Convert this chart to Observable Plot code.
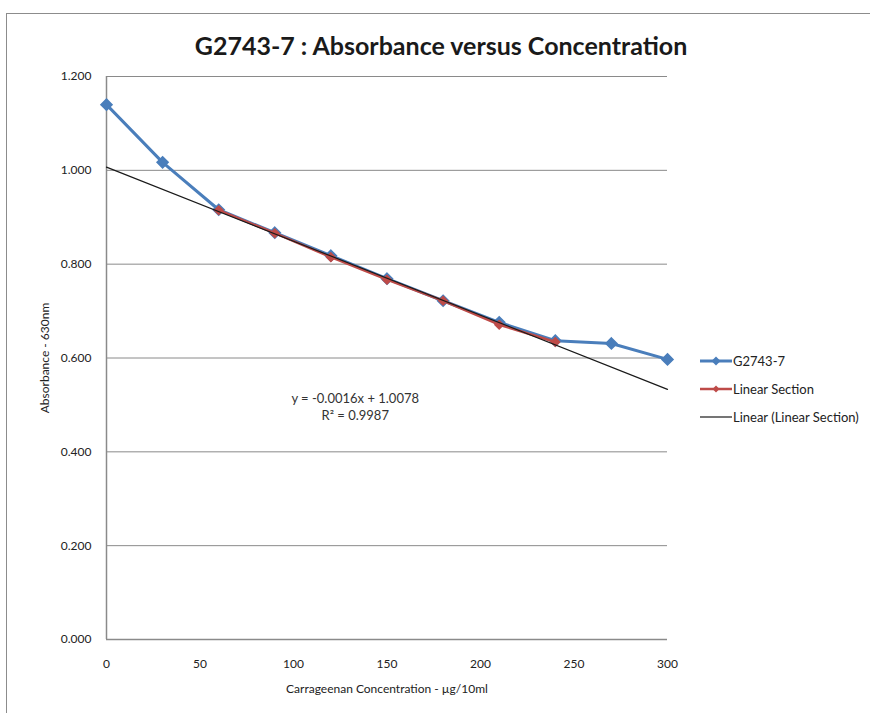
<!DOCTYPE html>
<html>
<head>
<meta charset="utf-8">
<script src="https://cdn.jsdelivr.net/npm/d3@7"></script>
<script src="https://cdn.jsdelivr.net/npm/@observablehq/plot@0.6"></script>
<style>
  html, body { margin: 0; padding: 0; background: #fff; }
  #wrap { position: relative; width: 870px; height: 713px; overflow: hidden; font-family: Lato, "Open Sans", sans-serif; }
  #frame { position: absolute; left: 6px; top: 13px; width: 900px; height: 800px; border: 1px solid #8c8c8c; box-sizing: border-box; }
  #title { position: absolute; left: 0; width: 882px; top: 30px; text-align: center; font-size: 25px; font-weight: bold; color: #1a1a1a; }
  #chart { position: absolute; left: 0; top: 0; }
  #legend { position: absolute; left: 700px; top: 347px; font-size: 13px; color: #222; }
  .item { display: flex; align-items: center; height: 28px; }
  .item svg { margin-right: 1px; }
</style>
</head>
<body>
<div id="wrap">
  <div id="frame"></div>
  <div id="chart"></div>
  <div id="title">G2743-7 : Absorbance versus Concentration</div>
  <div id="legend"></div>
</div>
<script>
// Data
const concentration = [0, 30, 60, 90, 120, 150, 180, 210, 240, 270, 300];
const absorbance = [1.140, 1.017, 0.916, 0.867, 0.818, 0.769, 0.722, 0.676, 0.637, 0.631, 0.597];
const linearConc = [60, 90, 120, 150, 180, 210, 240];
const linearAbs = [0.915, 0.866, 0.815, 0.767, 0.722, 0.671, 0.634];
const yTicks = [0, 0.2, 0.4, 0.6, 0.8, 1.0, 1.2];
const xTicks = [0, 50, 100, 150, 200, 250, 300];
const seriesNames = ["G2743-7", "Linear Section", "Linear (Linear Section)"];
const equationText = ["y = -0.0016x + 1.0078", "R² = 0.9987"];

const blue = "#4A7EBB", red = "#BE4B48", black = "#1a1a1a";

const main = concentration.map((c, i) => ({x: c, y: absorbance[i]}));
const lin = linearConc.map((c, i) => ({x: c, y: linearAbs[i]}));

// least-squares trend line through the linear section (Excel trendline, forecast over full x range)
const mx = d3.mean(linearConc), my = d3.mean(linearAbs);
const slope = d3.sum(linearConc, (c, i) => (c - mx) * (linearAbs[i] - my)) / d3.sum(linearConc, c => (c - mx) ** 2);
const intercept = my - slope * mx;
const trend = d3.extent(concentration).map(c => ({x: c, y: intercept + slope * c}));

const plot = Plot.plot({
  width: 870,
  height: 713,
  marginLeft: 106,
  marginRight: 203,
  marginTop: 76,
  marginBottom: 74,
  style: {fontFamily: "Lato, 'Open Sans', sans-serif", fontSize: "12px", color: "#222", background: "transparent"},
  x: {domain: [0, 300]},
  y: {domain: [0, 1.2]},
  marks: [
    Plot.gridY(yTicks, {stroke: "#8a8a8a", strokeOpacity: 1, strokeWidth: 1}),
    Plot.ruleX([0], {stroke: "#8a8a8a", strokeWidth: 1.5}),
    Plot.ruleY([0], {stroke: "#8a8a8a", strokeWidth: 1.5}),
    Plot.axisY(yTicks, {tickSize: 0, tickPadding: 15, tickFormat: d3.format(".3f"), label: "Absorbance - 630nm", labelAnchor: "center", labelArrow: "none", labelOffset: 66, fontSize: 12}),
    Plot.axisX(xTicks, {tickSize: 0, tickPadding: 20, label: "Carrageenan Concentration - µg/10ml", labelAnchor: "center", labelArrow: "none", labelOffset: 53, fontSize: 12}),
    Plot.line(main, {x: "x", y: "y", stroke: blue, strokeWidth: 3}),
    Plot.dot(main, {x: "x", y: "y", symbol: "diamond2", r: 5, fill: blue, stroke: blue}),
    Plot.line(lin, {x: "x", y: "y", stroke: red, strokeWidth: 2.5}),
    Plot.dot(lin, {x: "x", y: "y", symbol: "diamond2", r: 3.8, fill: red, stroke: red}),
    Plot.line(trend, {x: "x", y: "y", stroke: black, strokeWidth: 1.2}),
    Plot.text([equationText.join("\n")], {x: () => 133, y: () => 0.497, text: d => d, fontSize: 13, lineHeight: 1.3, fill: "#333", textAnchor: "middle"})
  ]
});
document.getElementById("chart").appendChild(plot);

// Legend
const legend = document.getElementById("legend");
const legendStyles = [
  {stroke: blue, width: 3, marker: 4.5},
  {stroke: red, width: 2.5, marker: 3.5},
  {stroke: black, width: 1.2, marker: 0}
];
seriesNames.forEach((name, i) => {
  const s = legendStyles[i];
  const item = document.createElement("div");
  item.className = "item";
  let svg = `<svg width="32" height="12"><line x1="0" x2="32" y1="6" y2="6" stroke="${s.stroke}" stroke-width="${s.width}"/>`;
  if (s.marker) svg += `<path d="M16,${6 - s.marker}L${16 + s.marker},6L16,${6 + s.marker}L${16 - s.marker},6Z" fill="${s.stroke}"/>`;
  svg += `</svg>`;
  item.innerHTML = svg + `<span>${name}</span>`;
  legend.appendChild(item);
});
</script>
</body>
</html>
